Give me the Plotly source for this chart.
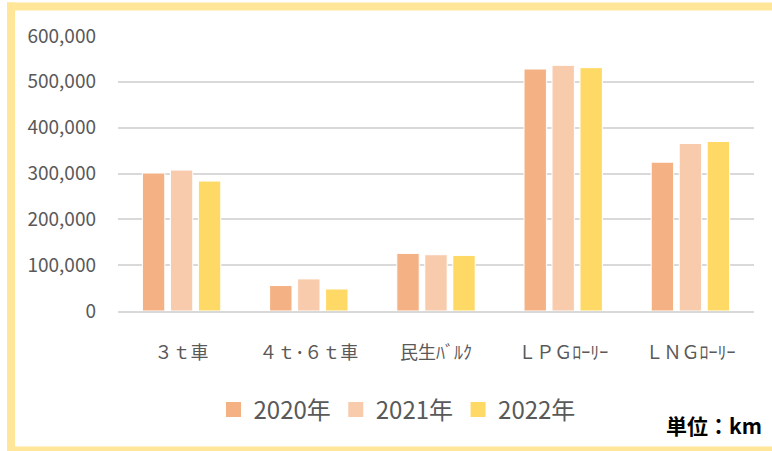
import plotly.graph_objects as go

categories = ["３ｔ車", "４ｔ･６ｔ車", "民生ﾊﾞﾙｸ", "ＬＰＧﾛｰﾘｰ", "ＬＮＧﾛｰﾘｰ"]
series_names = ["2020年", "2021年", "2022年"]
values_2020 = [301000, 55500, 125700, 528000, 324700]
values_2021 = [307500, 70000, 122800, 536000, 365500]
values_2022 = [283500, 48000, 121300, 531000, 369900]
colors = ["#F4B183", "#F8CBAD", "#FFD966"]
y_ticks = [0, 100000, 200000, 300000, 400000, 500000, 600000]
y_tick_labels = ["0", "100,000", "200,000", "300,000", "400,000", "500,000", "600,000"]

# figure slightly wider than the 772px window so its right edge falls off-screen
W, H = 790, 451
L, R, T, B = 118, 36, 36, 140
pw, ph = W - L - R, H - T - B

def px(x):
    return (x - L) / pw

def py(y):
    return (H - B - y) / ph

FONT = "Noto Sans CJK JP"

fig = go.Figure()
for name, vals, col in zip(series_names, [values_2020, values_2021, values_2022], colors):
    fig.add_trace(go.Bar(x=categories, y=vals, name=name, showlegend=False,
                         marker=dict(color=col, line=dict(color="white", width=1))))
# legend entries with square swatches
for name, col in zip(series_names, colors):
    fig.add_trace(go.Scatter(x=[None], y=[None], name=name, mode="markers",
                             marker=dict(symbol="square", size=15, color=col),
                             showlegend=True, hoverinfo="skip"))

fig.update_layout(
    width=W, height=H,
    margin=dict(l=L, r=R, t=T, b=B),
    paper_bgcolor="white", plot_bgcolor="white",
    barmode="group", bargap=0.34, bargroupgap=0.2,
    font=dict(family=FONT, color="#595959"),
    showlegend=True,
    legend=dict(orientation="h", x=px(397), xanchor="center", y=py(410), yanchor="middle",
                font=dict(size=24, color="#595959", family=FONT),
                itemwidth=30, traceorder="normal", itemsizing="trace",
                bgcolor="rgba(0,0,0,0)"),
    xaxis=dict(showgrid=False, showline=True, linecolor="#D9D9D9", linewidth=2,
               tickfont=dict(size=18, color="#595959", family=FONT),
               ticklabelstandoff=24, ticks=""),
    yaxis=dict(range=[0, 600000], tickvals=y_ticks, ticktext=y_tick_labels,
               showgrid=True, gridcolor="#D9D9D9", gridwidth=2, zeroline=False,
               showline=False, tickfont=dict(size=19, color="#595959", family=FONT),
               ticklabelstandoff=21, ticks=""),
)

# open-right yellow frame drawn as filled bands (top, left, bottom)
band = dict(type="rect", xref="paper", yref="paper", fillcolor="#FFE699",
            line=dict(width=0), layer="below")
fig.add_shape(**band, x0=px(7), x1=px(W), y0=py(10.5), y1=py(2.5))
fig.add_shape(**band, x0=px(7), x1=px(15), y0=py(451), y1=py(2.5))
fig.add_shape(**band, x0=px(7), x1=px(W), y0=py(451), y1=py(446.5))

fig.add_annotation(text="<b>単位：km</b>", xref="paper", yref="paper",
                   x=px(764), xanchor="right", y=py(425), yanchor="middle",
                   showarrow=False, font=dict(size=21, color="#000000", family=FONT))

fig.write_html("out.html", config={"displayModeBar": False},
               post_script="document.body.style.margin='0';document.body.style.overflow='hidden';")
